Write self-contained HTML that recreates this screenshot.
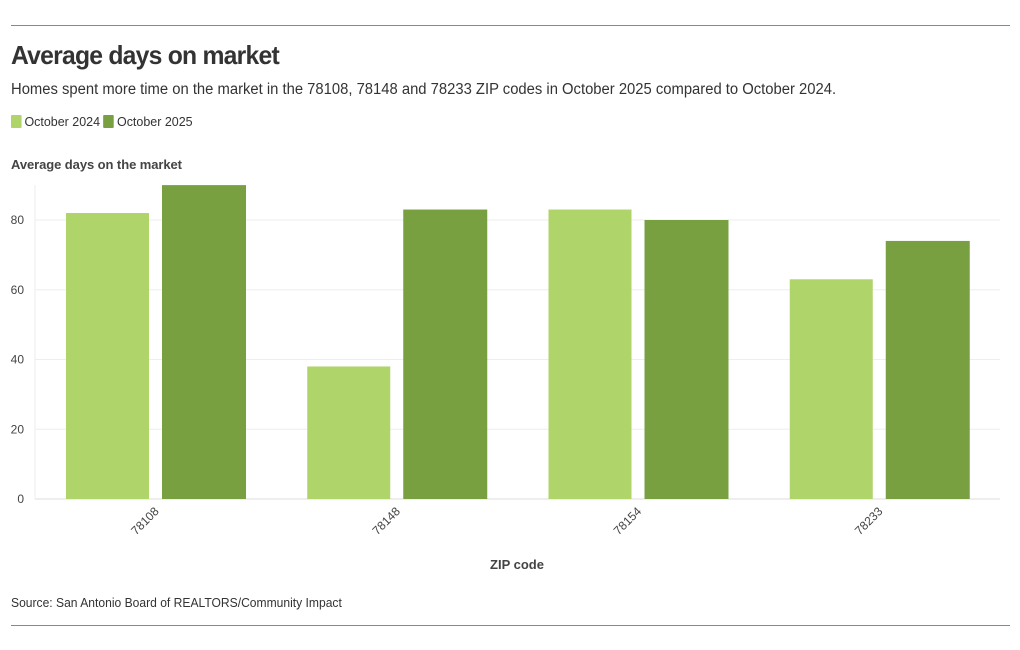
<!DOCTYPE html>
<html><head><meta charset="utf-8"><style>
body{margin:0;width:1020px;height:650px;background:#fff;font-family:"Liberation Sans",sans-serif;color:#333;position:relative;overflow:hidden}
.rule{position:absolute;left:11px;width:999px;height:1px;background:#888}
#title{position:absolute;left:11px;top:40px;font-size:26px;font-weight:bold;letter-spacing:-0.8px;transform:scaleX(0.95);transform-origin:left;white-space:nowrap}
#sub{position:absolute;left:11px;top:81px;font-size:15.5px;transform:scaleX(0.955);transform-origin:left;white-space:nowrap}
#legend{position:absolute;left:11px;top:114px;font-size:13px;transform:scaleX(0.96);transform-origin:left;white-space:nowrap}
.sw{display:inline-block;width:11px;height:13px;vertical-align:-2px;margin-right:3px;border-radius:1px}
#src{position:absolute;left:11px;top:595px;font-size:13px;transform:scaleX(0.93);transform-origin:left;white-space:nowrap}
</style></head><body>
<div class="rule" style="top:25px"></div>
<div id="title">Average days on market</div>
<div id="sub">Homes spent more time on the market in the 78108, 78148 and 78233 ZIP codes in October 2025 compared to October 2024.</div>
<div id="legend"><span><span class="sw" style="background:#afd46a"></span>October 2024</span> <span><span class="sw" style="background:#789f40"></span>October 2025</span></div>
<svg id="chart" width="1020" height="650" style="position:absolute;left:0;top:0"></svg>
<div id="src">Source: San Antonio Board of REALTORS/Community Impact</div>
<div class="rule" style="top:625px"></div>
<script>
const categories=["78108","78148","78154","78233"];
const values2024=[82,38,83,63];
const values2025=[90,83,80,74];
const yTicks=[0,20,40,60,80];
const svg=document.getElementById('chart');
const NS='http://www.w3.org/2000/svg';
const x0=35,x1=1000,y0=499,yTop=220,vTop=80;
const y=v=>y0-(v/vTop)*(y0-yTop);
const gw=(x1-x0)/categories.length;
function mk(t,a){const e=document.createElementNS(NS,t);for(const k in a)e.setAttribute(k,a[k]);svg.appendChild(e);return e;}
const yt=mk('text',{x:11,y:169,'font-size':13,'font-weight':'bold',fill:'#444','font-family':'Liberation Sans,sans-serif',textLength:171});
yt.textContent='Average days on the market';


yTicks.forEach(t=>{
 const l=mk('line',{x1:x0,x2:x1,y1:y(t),y2:y(t),stroke:t===0?'#ddd':'#eee','stroke-width':1});
 
 
 const tx=mk('text',{x:24,y:y(t)+4,'font-size':12,'text-anchor':'end',fill:'#444','font-family':'Liberation Sans,sans-serif'});
 tx.textContent=t;
 
 
});
mk('line',{x1:x0,x2:x0,y1:185,y2:y0,stroke:'#eee'});
categories.forEach((c,i)=>{
 const gx=x0+gw*i;
 const r1=mk('rect',{x:gx+31,y:y(values2024[i]),width:83,height:y0-y(values2024[i]),fill:'#afd46a'});
 
 
 const r2=mk('rect',{x:gx+127,y:y(values2025[i]),width:84,height:y0-y(values2025[i]),fill:'#789f40'});
 
 
 const cx=gx+gw/2+4;
 const t=mk('text',{x:cx,y:512,'font-size':12,'text-anchor':'end',fill:'#444','font-family':'Liberation Sans,sans-serif',transform:`rotate(-45 ${cx} 512)`});
 t.textContent=c;
 
 
});
const xt=mk('text',{x:517,y:569,'font-size':13,'font-weight':'bold','text-anchor':'middle',fill:'#444','font-family':'Liberation Sans,sans-serif'});
xt.textContent='ZIP code';


</script>
</body></html>
